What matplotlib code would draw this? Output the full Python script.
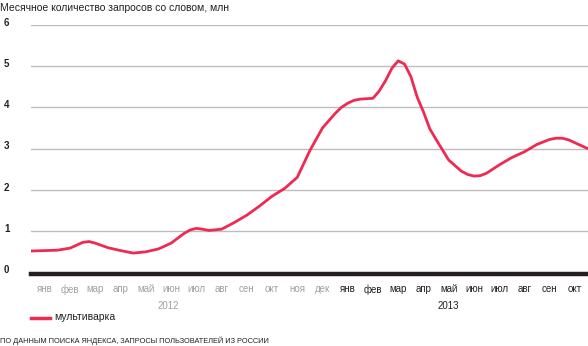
import matplotlib
matplotlib.use("Agg")
import matplotlib.pyplot as plt
import matplotlib.transforms as mtransforms

plt.rcParams['font.family'] = ['Liberation Sans Narrow', 'Liberation Sans', 'DejaVu Sans']

x_vals = [-0.55, 0, 0.5, 1, 1.25, 1.5, 1.75, 2, 2.5, 3, 3.5, 4, 4.5, 5, 5.5,
          5.75, 6, 6.25, 6.5, 7, 7.5, 8, 8.5, 9, 9.5, 10, 10.5, 11, 11.5,
          11.75, 12, 12.25, 12.5, 13, 13.25, 13.5, 13.75, 14, 14.25, 14.5,
          14.75, 15, 15.25, 15.5, 16, 16.5, 16.75, 17, 17.25, 17.5, 18, 18.5,
          19, 19.5, 20, 20.25, 20.5, 20.75, 21, 21.5]
y_vals = [0.51, 0.52, 0.53, 0.58, 0.65, 0.72, 0.74, 0.70, 0.59, 0.52, 0.46,
          0.49, 0.56, 0.70, 0.93, 1.02, 1.06, 1.04, 1.01, 1.04, 1.20, 1.38,
          1.60, 1.84, 2.03, 2.30, 2.95, 3.50, 3.85, 4.00, 4.10, 4.17, 4.20,
          4.22, 4.40, 4.65, 4.95, 5.13, 5.05, 4.75, 4.25, 3.89, 3.48, 3.22,
          2.72, 2.45, 2.37, 2.33, 2.34, 2.40, 2.60, 2.78, 2.92, 3.10, 3.22,
          3.25, 3.25, 3.21, 3.14, 3.00]

months = ['янв', 'фев', 'мар', 'апр', 'май', 'июн', 'июл', 'авг', 'сен', 'окт',
          'ноя', 'дек', 'янв', 'фев', 'мар', 'апр', 'май', 'июн', 'июл', 'авг',
          'сен', 'окт']
years = ['2012', '2013']
year_pos = [4.9, 16.0]
y_ticks = [0, 1, 2, 3, 4, 5, 6]

red = '#ef2a52'
grey_txt = '#a0a0a0'
dark_txt = '#231f20'

fig = plt.figure(figsize=(5.88, 3.46), dpi=100)
ax = fig.add_axes([31 / 588, 1 - 272 / 346, 557 / 588, 247 / 346])
ax.set_xlim(-0.55, 21.52)
ax.set_ylim(0, 6)

for v in y_ticks[1:]:
    ax.axhline(v, color='#bdbdbd', lw=1.0, zorder=1)
ax.axhline(-0.045, color=dark_txt, lw=3.2, zorder=2, clip_on=False)

ax.plot(x_vals, y_vals, color=red, lw=2.0, solid_capstyle='round',
        solid_joinstyle='round', zorder=3)

for s in ax.spines.values():
    s.set_visible(False)
ax.set_yticks([])
ax.set_xticks(range(len(months)))
ax.set_xticklabels(months, fontsize=7)
ax.tick_params(axis='x', length=0, pad=9)
for i, lab in enumerate(ax.get_xticklabels()):
    lab.set_color(grey_txt if i < 12 else dark_txt)

# y labels at the far left
trans = mtransforms.blended_transform_factory(fig.transFigure, ax.transData)
for v in y_ticks:
    ax.text(4 / 588, v + 0.05, str(v), transform=trans, fontsize=7,
            fontweight='bold', color=dark_txt, ha='left', va='center')

for yr, pos, col in zip(years, year_pos, [grey_txt, dark_txt]):
    ax.text(pos, -0.82, yr, fontsize=7, color=col, ha='center', va='center')

fig.text(0, 1 - 8 / 346, 'Месячное количество запросов со словом, млн',
         fontsize=7.5, color=dark_txt, ha='left', va='center')

fig.lines.append(plt.Line2D([31 / 588, 50 / 588], [1 - 318 / 346, 1 - 318 / 346],
                            transform=fig.transFigure, color=red, lw=2.5))
fig.text(54 / 588, 1 - 317 / 346, 'мультиварка', fontsize=7.5,
         color=dark_txt, ha='left', va='center')

fig.text(0, 1 - 341 / 346, 'ПО ДАННЫМ ПОИСКА ЯНДЕКСА, ЗАПРОСЫ ПОЛЬЗОВАТЕЛЕЙ ИЗ РОССИИ',
         fontsize=5.35, color=dark_txt, ha='left', va='center')

fig.savefig('out.png', dpi=100)
